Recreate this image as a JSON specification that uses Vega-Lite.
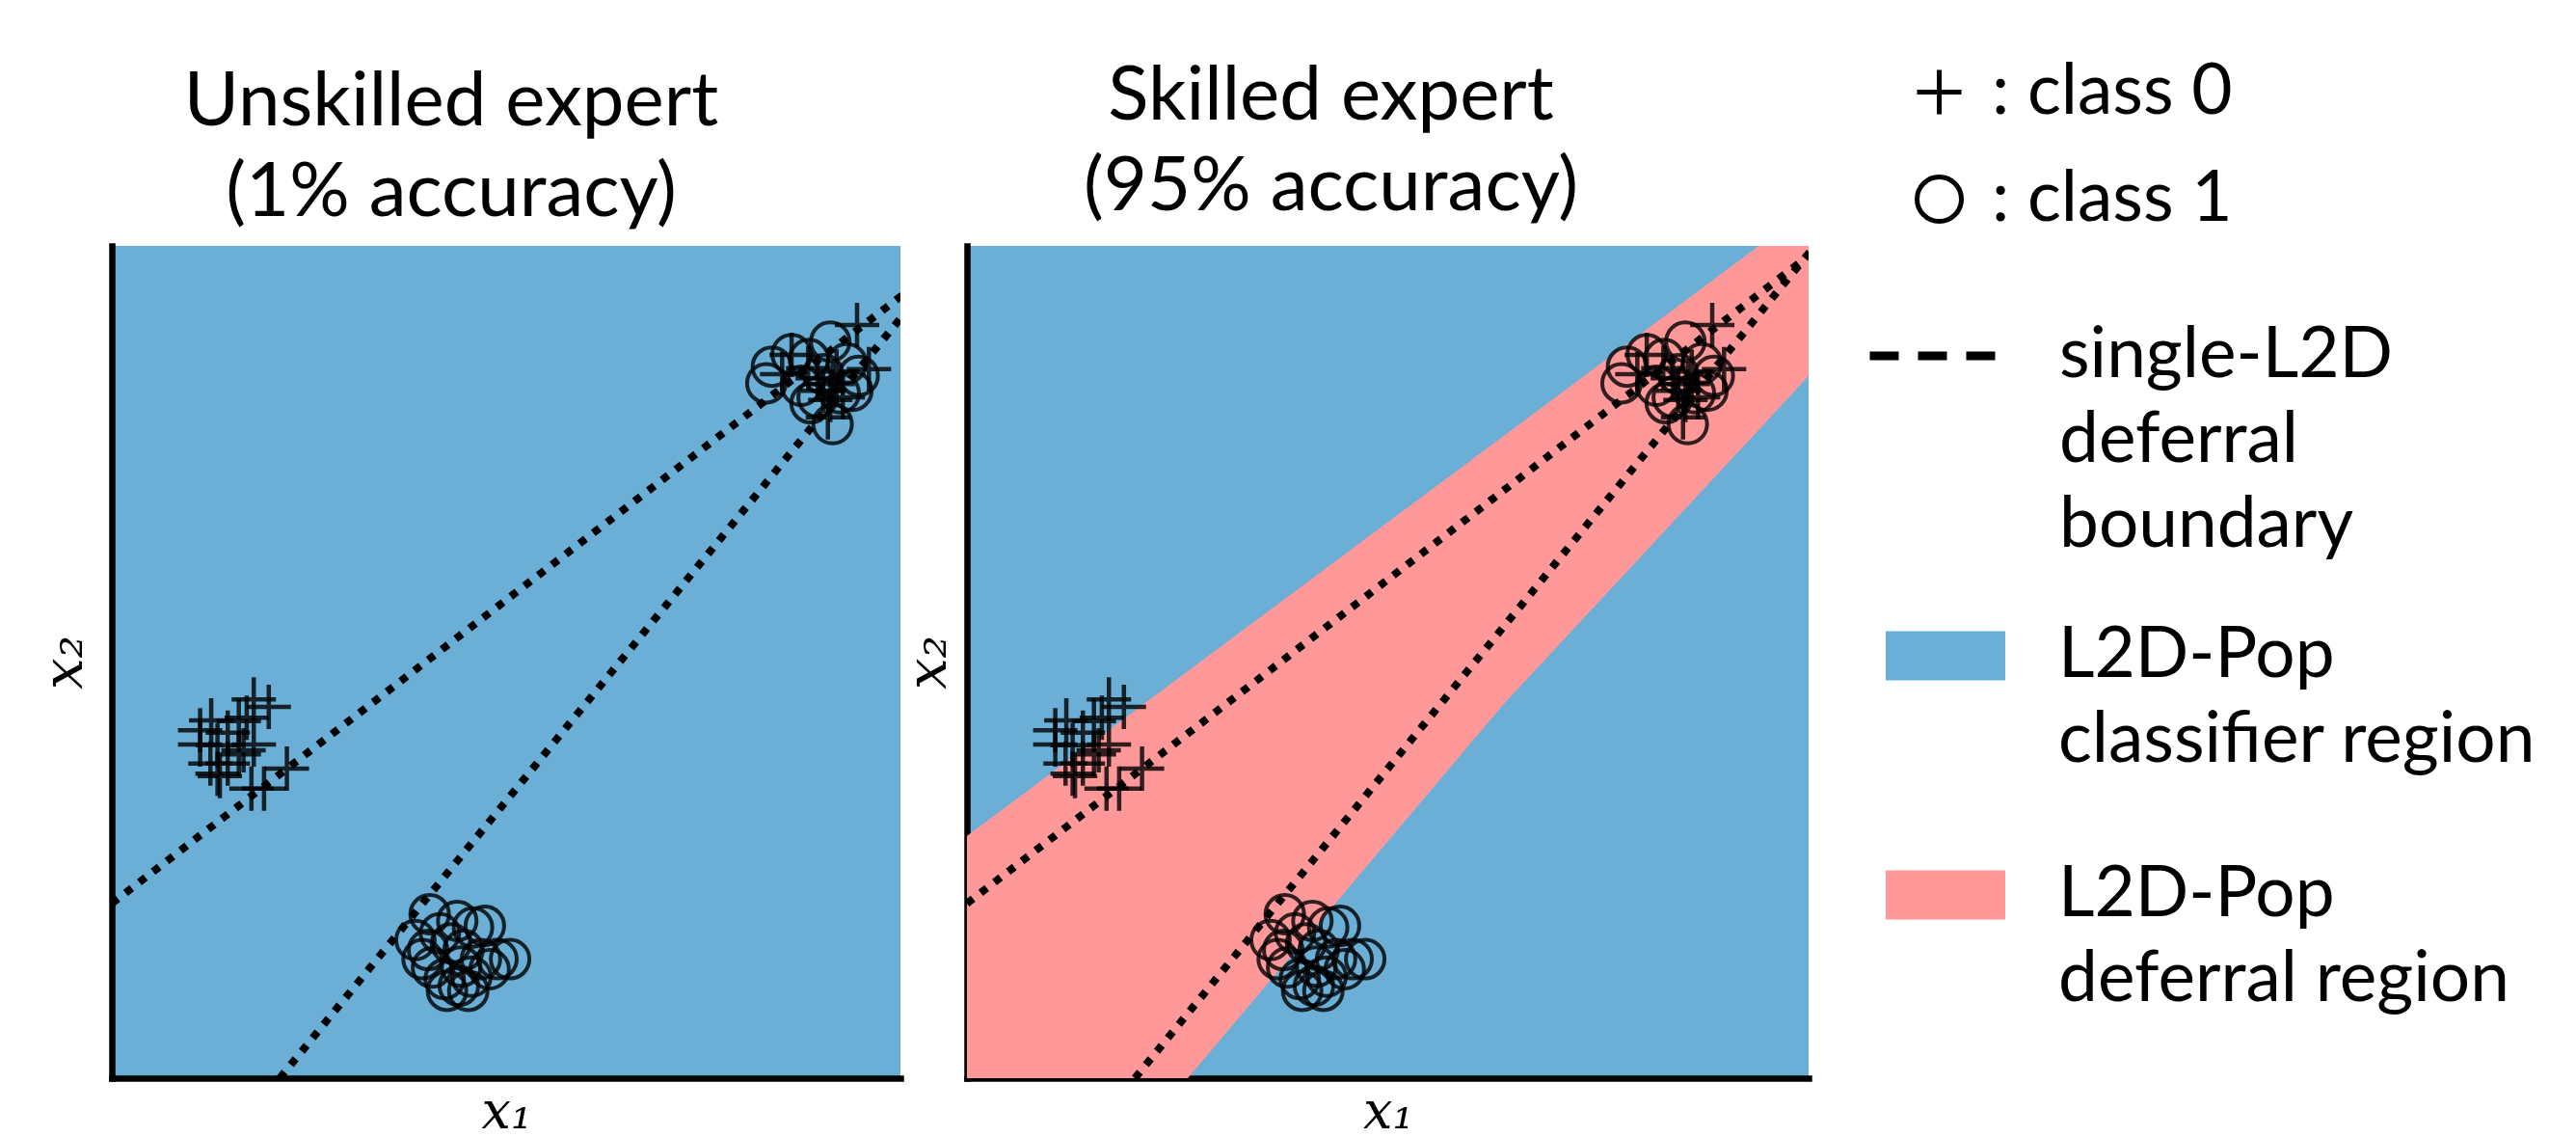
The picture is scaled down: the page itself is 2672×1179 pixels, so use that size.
{
  "$schema": "https://vega.github.io/schema/vega-lite/v6.json",
  "background": "white",
  "padding": {"left": 38, "top": 59, "right": 0, "bottom": 0},
  "spacing": 0,
  "config": {
    "view": {"stroke": null},
    "style": {"guide-label": {"lineHeight": 88}},
    "axis": {"grid": false, "ticks": false, "labels": false, "domain": true, "domainColor": "black", "domainWidth": 6.5, "domainCap": "square", "titleFont": "DejaVu Serif", "titleFontStyle": "italic", "titleFontWeight": "normal", "titleFontSize": 58, "titleColor": "black"},
    "title": {"font": "Lato", "fontSize": 78, "fontWeight": "normal", "color": "black", "anchor": "middle", "lineHeight": 94},
    "legend": {"labelFont": "Lato", "labelFontSize": 73, "labelColor": "black", "labelLimit": 0, "labelBaseline": "middle", "direction": "vertical", "orient": "none", "symbolOpacity": 1}
  },
  "datasets": {
    "pts": [
      {"x": 0.180, "y": 0.455, "cls": "class 0"}, {"x": 0.199, "y": 0.446, "cls": "class 0"}, {"x": 0.171, "y": 0.433, "cls": "class 0"},
      {"x": 0.126, "y": 0.430, "cls": "class 0"}, {"x": 0.112, "y": 0.418, "cls": "class 0"}, {"x": 0.161, "y": 0.429, "cls": "class 0"},
      {"x": 0.147, "y": 0.415, "cls": "class 0"}, {"x": 0.134, "y": 0.400, "cls": "class 0"}, {"x": 0.112, "y": 0.401, "cls": "class 0"},
      {"x": 0.167, "y": 0.394, "cls": "class 0"}, {"x": 0.147, "y": 0.378, "cls": "class 0"}, {"x": 0.161, "y": 0.389, "cls": "class 0"},
      {"x": 0.137, "y": 0.363, "cls": "class 0"}, {"x": 0.222, "y": 0.372, "cls": "class 0"}, {"x": 0.193, "y": 0.348, "cls": "class 0"},
      {"x": 0.177, "y": 0.348, "cls": "class 0"}, {"x": 0.134, "y": 0.366, "cls": "class 0"}, {"x": 0.180, "y": 0.401, "cls": "class 0"},
      {"x": 0.125, "y": 0.378, "cls": "class 0"},
      {"x": 0.945, "y": 0.905, "cls": "class 0"}, {"x": 0.960, "y": 0.852, "cls": "class 0"}, {"x": 0.862, "y": 0.869, "cls": "class 0"},
      {"x": 0.850, "y": 0.846, "cls": "class 0"}, {"x": 0.908, "y": 0.794, "cls": "class 0"}, {"x": 0.914, "y": 0.834, "cls": "class 0"},
      {"x": 0.902, "y": 0.826, "cls": "class 0"}, {"x": 0.919, "y": 0.849, "cls": "class 0"}, {"x": 0.895, "y": 0.841, "cls": "class 0"},
      {"x": 0.911, "y": 0.815, "cls": "class 0"}, {"x": 0.883, "y": 0.853, "cls": "class 0"}, {"x": 0.927, "y": 0.818, "cls": "class 0"},
      {"x": 0.403, "y": 0.197, "cls": "class 1"}, {"x": 0.385, "y": 0.166, "cls": "class 1"}, {"x": 0.438, "y": 0.189, "cls": "class 1"},
      {"x": 0.458, "y": 0.181, "cls": "class 1"}, {"x": 0.473, "y": 0.183, "cls": "class 1"}, {"x": 0.505, "y": 0.143, "cls": "class 1"},
      {"x": 0.489, "y": 0.143, "cls": "class 1"}, {"x": 0.401, "y": 0.154, "cls": "class 1"}, {"x": 0.406, "y": 0.133, "cls": "class 1"},
      {"x": 0.422, "y": 0.119, "cls": "class 1"}, {"x": 0.440, "y": 0.111, "cls": "class 1"}, {"x": 0.456, "y": 0.122, "cls": "class 1"},
      {"x": 0.468, "y": 0.143, "cls": "class 1"}, {"x": 0.446, "y": 0.154, "cls": "class 1"}, {"x": 0.430, "y": 0.162, "cls": "class 1"},
      {"x": 0.416, "y": 0.174, "cls": "class 1"}, {"x": 0.394, "y": 0.143, "cls": "class 1"}, {"x": 0.479, "y": 0.131, "cls": "class 1"},
      {"x": 0.452, "y": 0.105, "cls": "class 1"}, {"x": 0.425, "y": 0.105, "cls": "class 1"}, {"x": 0.443, "y": 0.134, "cls": "class 1"},
      {"x": 0.830, "y": 0.835, "cls": "class 1"}, {"x": 0.837, "y": 0.855, "cls": "class 1"}, {"x": 0.862, "y": 0.870, "cls": "class 1"},
      {"x": 0.911, "y": 0.885, "cls": "class 1"}, {"x": 0.884, "y": 0.864, "cls": "class 1"}, {"x": 0.932, "y": 0.859, "cls": "class 1"},
      {"x": 0.947, "y": 0.844, "cls": "class 1"}, {"x": 0.914, "y": 0.786, "cls": "class 1"}, {"x": 0.895, "y": 0.818, "cls": "class 1"},
      {"x": 0.874, "y": 0.832, "cls": "class 1"}, {"x": 0.923, "y": 0.823, "cls": "class 1"}, {"x": 0.902, "y": 0.846, "cls": "class 1"},
      {"x": 0.939, "y": 0.826, "cls": "class 1"}, {"x": 0.886, "y": 0.811, "cls": "class 1"}
    ],
    "lines": [
      {"line": "a", "x": 0.0, "y": 0.21, "kind": "single-L2D|deferral|boundary"},
      {"line": "a", "x": 1.1, "y": 1.012, "kind": "single-L2D|deferral|boundary"},
      {"line": "b", "x": 0.213, "y": 0.0, "kind": "single-L2D|deferral|boundary"},
      {"line": "b", "x": 1.1, "y": 1.029, "kind": "single-L2D|deferral|boundary"}
    ],
    "defer": [
      {"x": 0.0, "hi": 0.291, "lo": 0.0, "region": "L2D-Pop|deferral region"},
      {"x": 0.280, "hi": 0.489, "lo": 0.0, "region": "L2D-Pop|deferral region"},
      {"x": 0.681, "hi": 0.772, "lo": 0.450, "region": "L2D-Pop|deferral region"},
      {"x": 1.004, "hi": 1.0, "lo": 0.779, "region": "L2D-Pop|deferral region"},
      {"x": 1.0672, "hi": 1.0, "lo": 0.844, "region": "L2D-Pop|deferral region"}
    ]
  },
  "hconcat": [
    {
      "width": 818,
      "height": 863,
      "view": {"fill": "#6baed6", "stroke": null},
      "title": {"text": ["Unskilled expert", "(1% accuracy)"], "dx": -57, "offset": 15},
      "encoding": {
        "x": {"field": "x", "type": "quantitative", "scale": {"domain": [0, 1], "nice": false, "zero": false}, "axis": {"title": "x₁", "titlePadding": 8, "titleFontSize": 54}},
        "y": {"field": "y", "type": "quantitative", "scale": {"domain": [0, 1], "nice": false, "zero": false}, "axis": {"title": "x₂", "titlePadding": 20}}
      },
      "layer": [
        {
          "data": {"name": "pts"},
          "transform": [{"filter": "datum.cls === 'class 0'"}],
          "mark": {"type": "point", "filled": false, "color": "black"},
          "encoding": {
            "size": {"value": 2116}, "strokeWidth": {"value": 4.5}, "opacity": {"value": 0.8},
            "shape": {"field": "cls", "type": "nominal", "scale": {"domain": ["class 0", "class 1"], "range": ["M-1,0L1,0M0,-1L0,1", "circle"]},
              "legend": {"title": null, "orient": "none", "legendX": 1859, "legendY": -196, "labelExpr": "': ' + datum.label", "labelOffset": 18, "rowPadding": 37, "symbolSize": 2116, "symbolStrokeWidth": 5, "symbolStrokeColor": "black", "symbolOpacity": 1}}
          }
        },
        {
          "data": {"name": "pts"},
          "transform": [{"filter": "datum.cls === 'class 1'"}],
          "mark": {"type": "point", "filled": false, "color": "black"},
          "encoding": {"size": {"value": 1600}, "strokeWidth": {"value": 4}, "opacity": {"value": 0.8}, "shape": {"field": "cls", "type": "nominal"}}
        },
        {
          "data": {"name": "lines"},
          "mark": {"type": "line", "clip": true, "strokeCap": "butt"},
          "encoding": {
            "strokeWidth": {"value": 8},
            "strokeDash": {"field": "line", "type": "nominal", "scale": {"domain": ["a", "b"], "range": [[8, 10], [8, 10]]}, "legend": null},
            "stroke": {"field": "kind", "type": "nominal", "scale": {"domain": ["single-L2D|deferral|boundary"], "range": ["black"]},
              "legend": {"title": null, "orient": "none", "legendX": 1819, "legendY": 44, "labelExpr": "split(datum.label, '|')", "labelOffset": 61, "symbolType": "stroke", "symbolSize": 17161, "symbolDash": [30, 20], "symbolStrokeWidth": 9, "symbolOpacity": 1}}
          }
        }
      ]
    },
    {
      "width": 873,
      "height": 863,
      "view": {"fill": "#6baed6", "stroke": null},
      "title": {"text": ["Skilled expert", "(95% accuracy)"], "dx": -59, "offset": 21},
      "encoding": {
        "x": {"field": "x", "type": "quantitative", "scale": {"domain": [0, 1.0672], "nice": false, "zero": false}, "axis": {"title": "x₁", "titlePadding": 8, "titleFontSize": 54}},
        "y": {"field": "y", "type": "quantitative", "scale": {"domain": [0, 1], "nice": false, "zero": false}, "axis": {"title": "x₂", "titlePadding": 11}}
      },
      "layer": [
        {
          "data": {"name": "defer"},
          "mark": {"type": "area", "interpolate": "linear", "clip": true},
          "encoding": {
            "y": {"field": "hi", "type": "quantitative"},
            "y2": {"field": "lo"},
            "color": {"field": "region", "type": "nominal", "scale": {"domain": ["L2D-Pop|classifier region", "L2D-Pop|deferral region"], "range": ["#6baed6", "#ff9999"]},
              "legend": {"title": null, "orient": "none", "legendX": 1840, "legendY": 363, "labelExpr": "split(datum.label, '|')", "labelOffset": 55, "rowPadding": 61, "symbolType": "M-1,-0.41L1,-0.41L1,0.41L-1,0.41Z", "symbolSize": 15376, "symbolStrokeWidth": 0, "symbolOpacity": 1}}
          }
        },
        {
          "data": {"name": "pts"},
          "transform": [{"filter": "datum.cls === 'class 0'"}],
          "mark": {"type": "point", "filled": false, "color": "black"},
          "encoding": {"size": {"value": 2116}, "strokeWidth": {"value": 4.5}, "opacity": {"value": 0.8}, "shape": {"field": "cls", "type": "nominal"}}
        },
        {
          "data": {"name": "pts"},
          "transform": [{"filter": "datum.cls === 'class 1'"}],
          "mark": {"type": "point", "filled": false, "color": "black"},
          "encoding": {"size": {"value": 1600}, "strokeWidth": {"value": 4}, "opacity": {"value": 0.8}, "shape": {"field": "cls", "type": "nominal"}}
        },
        {
          "data": {"name": "lines"},
          "mark": {"type": "line", "clip": true, "strokeCap": "butt"},
          "encoding": {
            "strokeWidth": {"value": 8},
            "strokeDash": {"field": "line", "type": "nominal"},
            "stroke": {"field": "kind", "type": "nominal"}
          }
        }
      ]
    }
  ]
}
